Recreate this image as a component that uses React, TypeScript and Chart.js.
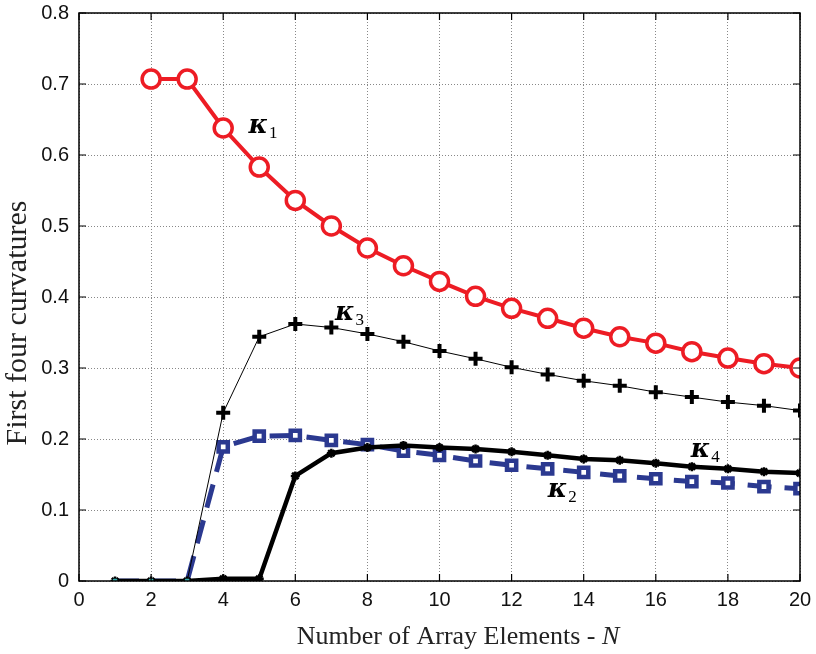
import { useEffect, useRef } from 'react';
import { Chart, registerables } from 'chart.js';
Chart.register(...registerables);

const N = [1, 2, 3, 4, 5, 6, 7, 8, 9, 10, 11, 12, 13, 14, 15, 16, 17, 18, 19, 20];
const kappa1 = [null, 0.707, 0.707, 0.638, 0.583, 0.536, 0.5, 0.469, 0.444, 0.422, 0.401, 0.384, 0.37, 0.356, 0.344, 0.335, 0.323, 0.314, 0.306, 0.3];
const kappa3 = [0, 0, 0, 0.237, 0.344, 0.362, 0.357, 0.348, 0.337, 0.324, 0.313, 0.301, 0.291, 0.282, 0.275, 0.266, 0.259, 0.252, 0.247, 0.24];
const kappa2 = [0, 0, 0, 0.189, 0.204, 0.205, 0.198, 0.192, 0.183, 0.177, 0.169, 0.163, 0.158, 0.153, 0.148, 0.144, 0.14, 0.138, 0.133, 0.13];
const kappa4 = [0, 0, 0, 0.003, 0.003, 0.148, 0.18, 0.188, 0.191, 0.188, 0.186, 0.182, 0.177, 0.172, 0.17, 0.166, 0.161, 0.158, 0.154, 0.152];
const cyanN = [1, 2, 3];
const cyanV = [0, 0, 0];
const yTicks = [0, 0.1, 0.2, 0.3, 0.4, 0.5, 0.6, 0.7, 0.8];
const xTicks = [0, 2, 4, 6, 8, 10, 12, 14, 16, 18, 20];
const labelNames = ['κ', 'κ', 'κ', 'κ'];
const labelSubs = ['1', '3', '4', '2'];
const labelX = [4.7, 7.1, 16.97, 13.0];
const labelY = [0.642, 0.379, 0.186, 0.13];
const xTitle = 'Number of Array Elements - ';
const xTitleItalic = 'N';
const yTitle = 'First four curvatures';

const pts = (vals: (number | null)[]) => N.map((n, i) => ({ x: n, y: vals[i] }));

const decor = {
  id: 'decor',
  afterDatasetsDraw(chart: any) {
    const { ctx, chartArea: a, scales } = chart;
    const xs = scales.x, ys = scales.y;
    ctx.save();
    ctx.strokeStyle = '#000';
    ctx.lineWidth = 1.5;
    ctx.strokeRect(a.left, a.top, a.right - a.left, a.bottom - a.top);
    ctx.lineWidth = 1.2;
    const tl = 7;
    xTicks.forEach((t) => {
      const px = xs.getPixelForValue(t);
      ctx.beginPath();
      ctx.moveTo(px, a.bottom); ctx.lineTo(px, a.bottom - tl);
      ctx.moveTo(px, a.top); ctx.lineTo(px, a.top + tl);
      ctx.stroke();
    });
    yTicks.forEach((t) => {
      const py = ys.getPixelForValue(t);
      ctx.beginPath();
      ctx.moveTo(a.left, py); ctx.lineTo(a.left + tl, py);
      ctx.moveTo(a.right, py); ctx.lineTo(a.right - tl, py);
      ctx.stroke();
    });
    ctx.fillStyle = '#000';
    ctx.textBaseline = 'alphabetic';
    ctx.textAlign = 'left';
    labelNames.forEach((nm, i) => {
      const px = xs.getPixelForValue(labelX[i]);
      const py = ys.getPixelForValue(labelY[i]) + 8;
      ctx.font = 'bold italic 26px "DejaVu Serif"';
      ctx.fillText(nm, px, py);
      const w = ctx.measureText(nm).width;
      ctx.font = '17px "Liberation Serif"';
      ctx.fillText(labelSubs[i], px + w + 1, py + 5);
    });
    ctx.font = '26px "Liberation Serif"';
    const w1 = ctx.measureText(xTitle).width;
    ctx.font = 'italic 26px "Liberation Serif"';
    const w2 = ctx.measureText(xTitleItalic).width;
    const cx = 458;
    const sx = cx - (w1 + w2) / 2;
    const ty = 644;
    ctx.fillStyle = '#222';
    ctx.font = '26px "Liberation Serif"';
    ctx.fillText(xTitle, sx, ty);
    ctx.font = 'italic 26px "Liberation Serif"';
    ctx.fillText(xTitleItalic, sx + w1, ty);
    ctx.translate(26, 323);
    ctx.rotate(-Math.PI / 2);
    ctx.textAlign = 'center';
    ctx.font = '30px "Liberation Serif"';
    ctx.fillText(yTitle, 0, 0);
    ctx.restore();
  },
};

export default function App() {
  const ref = useRef<HTMLCanvasElement>(null);
  useEffect(() => {
    const chart = new Chart(ref.current!, {
      type: 'line',
      data: {
        datasets: [
          {
            label: 'k1', data: pts(kappa1), borderColor: '#ED1C24', borderWidth: 4,
            pointStyle: 'circle', pointRadius: 9, pointBorderWidth: 3.5,
            pointBackgroundColor: '#fff', pointBorderColor: '#ED1C24', order: 1,
          },
          {
            label: 'k3', data: pts(kappa3), borderColor: '#000', borderWidth: 1,
            pointStyle: 'cross', pointRadius: N.map((n) => (n <= 3 ? 0 : 7)), pointBorderWidth: 4,
            pointBorderColor: '#000', order: 2,
          },
          {
            label: 'k4', data: pts(kappa4), borderColor: '#000', borderWidth: 4.5,
            pointStyle: 'star', pointRadius: 4.5, pointBorderWidth: 2.5,
            pointBorderColor: '#000', order: 3,
          },
          {
            label: 'k2', data: pts(kappa2), borderColor: '#2B3990', borderWidth: 5, borderDash: [24, 13],
            pointStyle: 'rect', pointRadius: N.map((n) => (n <= 3 ? 0 : 6.5)), pointBorderWidth: 4.5,
            pointBackgroundColor: '#fff', pointBorderColor: '#2B3990', order: 4,
          },
          {
            label: 'c', data: cyanN.map((n, i) => ({ x: n, y: cyanV[i] })), showLine: false,
            pointStyle: 'rect', pointRadius: 2.5, pointBackgroundColor: '#3CB8B8', pointBorderColor: '#3CB8B8', order: 0,
          },
        ],
      },
      options: {
        animation: false,
        responsive: false,
        maintainAspectRatio: false,
        layout: { padding: { top: 13, right: 16, left: 0, bottom: 0 } },
        plugins: { legend: { display: false }, tooltip: { enabled: false } },
        scales: {
          x: {
            type: 'linear', min: 0, max: 20,
            afterBuildTicks: (s: any) => { s.ticks = xTicks.map((v) => ({ value: v })); },
            afterFit: (s: any) => { s.height = 73; s.paddingLeft = 0; s.paddingRight = 0; s.paddingTop = 0; s.paddingBottom = 0; },
            ticks: { color: '#111', font: { family: 'Liberation Sans', size: 20 }, padding: 7, maxRotation: 0 },
            grid: { color: '#888', lineWidth: 1, drawTicks: false },
            border: { display: false, dash: [1, 2] },
          },
          y: {
            type: 'linear', min: 0, max: 0.8,
            afterBuildTicks: (s: any) => { s.ticks = yTicks.map((v) => ({ value: v })); },
            afterFit: (s: any) => { s.width = 79; s.paddingLeft = 0; s.paddingRight = 0; s.paddingTop = 0; s.paddingBottom = 0; },
            ticks: { color: '#111', font: { family: 'Liberation Sans', size: 20 }, padding: 10, callback: (v: any) => String(Math.round(v * 10) / 10) },
            grid: { color: '#888', lineWidth: 1, drawTicks: false },
            border: { display: false, dash: [1, 2] },
          },
        },
      },
      plugins: [decor],
    } as any);
    return () => chart.destroy();
  }, []);
  return (
    <div style={{ position: 'absolute', left: 0, top: 0, width: 816, height: 654, background: '#fff' }}>
      <canvas ref={ref} width={816} height={654} style={{ width: 816, height: 654 }} />
    </div>
  );
}
